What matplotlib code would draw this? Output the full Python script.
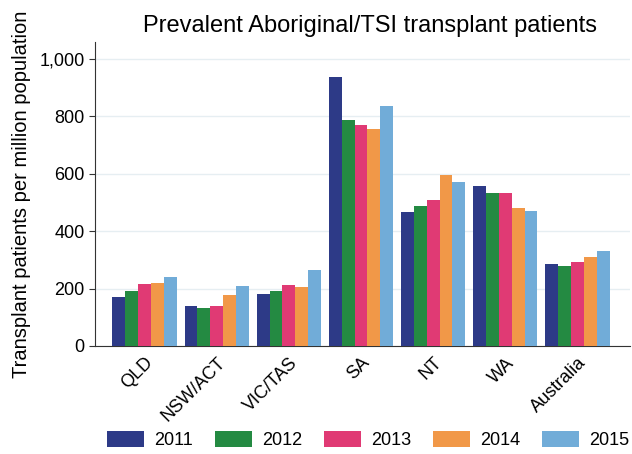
import numpy as np
import matplotlib
matplotlib.use("Agg")
from matplotlib import pyplot as plt
from matplotlib.ticker import FuncFormatter

plt.rcParams['font.family'] = ['Liberation Sans', 'DejaVu Sans']

regions = ['QLD', 'NSW/ACT', 'VIC/TAS', 'SA', 'NT', 'WA', 'Australia']
years = ['2011', '2012', '2013', '2014', '2015']
colors = ['#2d3a87', '#248a42', '#e03a74', '#f19848', '#71acd8']

# transplant patients per million population, by year
v2011 = [169, 140, 181, 938, 466, 557, 285]
v2012 = [190, 133, 192, 788, 487, 534, 280]
v2013 = [216, 138, 213, 771, 507, 534, 293]
v2014 = [221, 178, 207, 756, 595, 479, 309]
v2015 = [240, 209, 266, 837, 573, 470, 330]
series = [v2011, v2012, v2013, v2014, v2015]

fig = plt.figure(figsize=(6.32, 4.54), dpi=100)
ax = fig.add_axes([0.150, 0.238, 0.847, 0.670])

x = np.arange(len(regions))
w = 0.178
for i, vals in enumerate(series):
    ax.bar(x + (i - 2) * w, vals, width=w, color=colors[i], label=years[i], zorder=3)

ax.set_xlim(-0.69, 6.73)
ax.set_ylim(0, 1060)
ax.set_yticks([0, 200, 400, 600, 800, 1000])
ax.yaxis.set_major_formatter(FuncFormatter(lambda v, p: f'{int(v):,}'))
ax.grid(axis='y', color='#e6eef2', linewidth=1, zorder=0)

ax.set_xticks(x)
ax.set_xticklabels(regions, rotation=45, ha='right', rotation_mode='anchor', fontsize=13)
ax.tick_params(axis='x', length=0, pad=6)
ax.tick_params(axis='y', labelsize=13, length=4, color='#333333')

for s in ['top', 'right']:
    ax.spines[s].set_visible(False)
for s in ['left', 'bottom']:
    ax.spines[s].set_color('#333333')

ax.set_ylabel('Transplant patients per million population', fontsize=14.5, labelpad=6)
ax.set_title('Prevalent Aboriginal/TSI transplant patients', fontsize=17, pad=7, x=0.514)

fig.legend(loc='lower center', bbox_to_anchor=(0.583, -0.025), ncol=5, frameon=False,
           fontsize=13, handlelength=2.05, handleheight=1.0, handletextpad=0.55,
           columnspacing=1.22)

plt.savefig('out.png', dpi=100)
